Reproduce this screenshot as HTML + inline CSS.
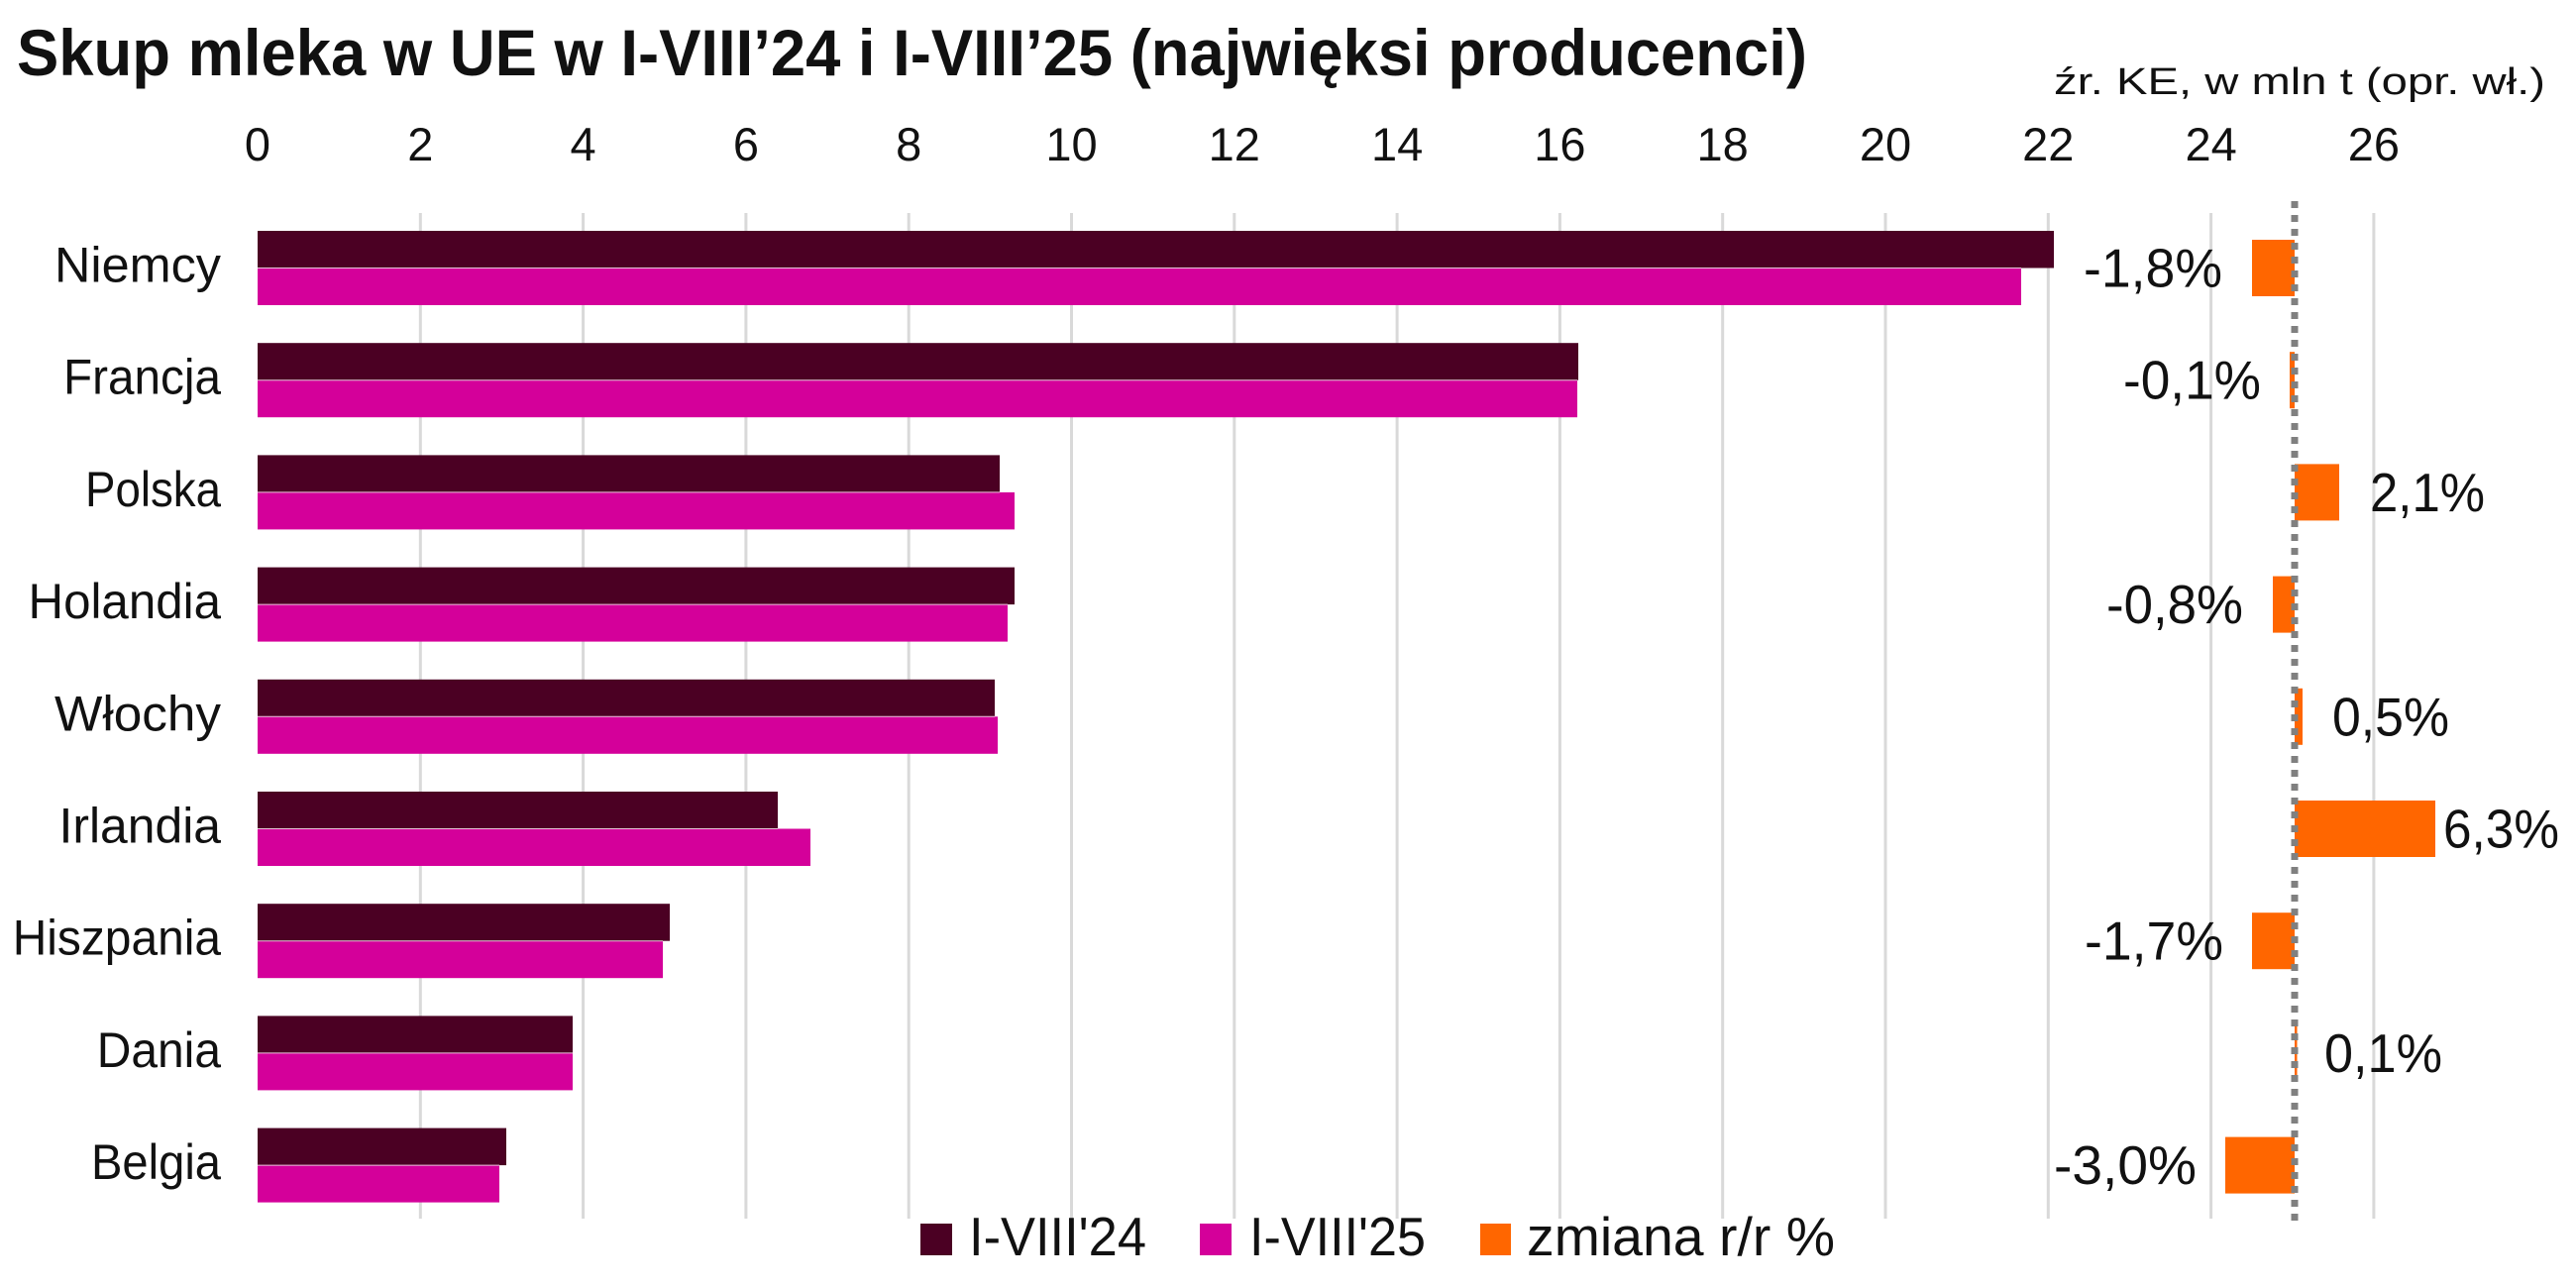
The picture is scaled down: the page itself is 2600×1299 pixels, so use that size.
<!DOCTYPE html>
<html>
<head>
<meta charset="utf-8">
<style>
html,body{margin:0;padding:0;background:#fff;}
svg{display:block;}
text{font-family:"Liberation Sans","DejaVu Sans",sans-serif;fill:#111;}
</style>
</head>
<body>
<svg width="2600" height="1299" viewBox="0 0 2600 1299" xmlns="http://www.w3.org/2000/svg">
<rect x="0" y="0" width="2600" height="1299" fill="#fff"/>

<!-- Title -->
<text x="17" y="76" font-size="66" font-weight="bold" textLength="1807" lengthAdjust="spacingAndGlyphs">Skup mleka w UE w I-VIII’24 i I-VIII’25 (najwięksi producenci)</text>
<!-- Source -->
<text x="2073" y="95" font-size="38" textLength="496" lengthAdjust="spacingAndGlyphs">źr. KE, w mln t (opr. wł.)</text>

<!-- Tick labels -->
<g font-size="47" text-anchor="middle">
<text x="260" y="162">0</text>
<text x="424.3" y="162">2</text>
<text x="588.6" y="162">4</text>
<text x="752.9" y="162">6</text>
<text x="917.2" y="162">8</text>
<text x="1081.5" y="162">10</text>
<text x="1245.8" y="162">12</text>
<text x="1410.1" y="162">14</text>
<text x="1574.4" y="162">16</text>
<text x="1738.7" y="162">18</text>
<text x="1903" y="162">20</text>
<text x="2067.3" y="162">22</text>
<text x="2231.6" y="162">24</text>
<text x="2395.9" y="162">26</text>
</g>

<!-- Gridlines -->
<g stroke="#d9d9d9" stroke-width="3">
<line x1="424.3" y1="215" x2="424.3" y2="1230"/>
<line x1="588.6" y1="215" x2="588.6" y2="1230"/>
<line x1="752.9" y1="215" x2="752.9" y2="1230"/>
<line x1="917.2" y1="215" x2="917.2" y2="1230"/>
<line x1="1081.5" y1="215" x2="1081.5" y2="1230"/>
<line x1="1245.8" y1="215" x2="1245.8" y2="1230"/>
<line x1="1410.1" y1="215" x2="1410.1" y2="1230"/>
<line x1="1574.4" y1="215" x2="1574.4" y2="1230"/>
<line x1="1738.7" y1="215" x2="1738.7" y2="1230"/>
<line x1="1903" y1="215" x2="1903" y2="1230"/>
<line x1="2067.3" y1="215" x2="2067.3" y2="1230"/>
<line x1="2231.6" y1="215" x2="2231.6" y2="1230"/>
<line x1="2395.9" y1="215" x2="2395.9" y2="1230"/>
</g>

<!-- Bars 2024 (dark) -->
<g fill="#4b0023">
<rect x="260" y="233" width="1813" height="37.5"/>
<rect x="260" y="346.2" width="1333" height="37.5"/>
<rect x="260" y="459.4" width="749" height="37.5"/>
<rect x="260" y="572.6" width="764" height="37.5"/>
<rect x="260" y="685.8" width="744" height="37.5"/>
<rect x="260" y="799" width="525" height="37.5"/>
<rect x="260" y="912.2" width="416" height="37.5"/>
<rect x="260" y="1025.4" width="318" height="37.5"/>
<rect x="260" y="1138.6" width="251" height="37.5"/>
</g>
<!-- Bars 2025 (pink) -->
<g fill="#d4009a">
<rect x="260" y="270.5" width="1780" height="37.5"/>
<rect x="260" y="383.7" width="1332" height="37.5"/>
<rect x="260" y="496.9" width="764" height="37.5"/>
<rect x="260" y="610.1" width="757" height="37.5"/>
<rect x="260" y="723.3" width="747" height="37.5"/>
<rect x="260" y="836.5" width="558" height="37.5"/>
<rect x="260" y="949.7" width="409" height="37.5"/>
<rect x="260" y="1062.9" width="318" height="37.5"/>
<rect x="260" y="1176.1" width="244" height="37.5"/>
</g>
<!-- separators -->
<g stroke="#e8c6d9" stroke-width="1">
<line x1="260" y1="270.5" x2="2040" y2="270.5"/>
<line x1="260" y1="383.7" x2="1592" y2="383.7"/>
<line x1="260" y1="496.9" x2="1009" y2="496.9"/>
<line x1="260" y1="610.1" x2="1017" y2="610.1"/>
<line x1="260" y1="723.3" x2="1004" y2="723.3"/>
<line x1="260" y1="836.5" x2="785" y2="836.5"/>
<line x1="260" y1="949.7" x2="669" y2="949.7"/>
<line x1="260" y1="1062.9" x2="578" y2="1062.9"/>
<line x1="260" y1="1176.1" x2="504" y2="1176.1"/>
</g>

<!-- Orange change bars -->
<g fill="#ff6600">
<rect x="2273" y="242" width="43" height="57"/>
<rect x="2311" y="355.2" width="5" height="57"/>
<rect x="2316" y="468.4" width="45" height="57"/>
<rect x="2294" y="581.6" width="22" height="57"/>
<rect x="2316" y="694.8" width="8" height="57"/>
<rect x="2316" y="808" width="142" height="57"/>
<rect x="2273" y="921.2" width="43" height="57"/>
<rect x="2316" y="1034.4" width="2.5" height="57"/>
<rect x="2246" y="1147.6" width="70" height="57"/>
</g>

<!-- Dashed zero line -->
<line x1="2316" y1="203" x2="2316" y2="1237" stroke="#808080" stroke-width="7" stroke-dasharray="7 7"/>

<!-- Category labels -->
<g font-size="50" lengthAdjust="spacingAndGlyphs">
<text x="55" y="284.5" textLength="168" lengthAdjust="spacingAndGlyphs">Niemcy</text>
<text x="64" y="397.7" textLength="159" lengthAdjust="spacingAndGlyphs">Francja</text>
<text x="86" y="510.9" textLength="137" lengthAdjust="spacingAndGlyphs">Polska</text>
<text x="28.5" y="624.1" textLength="194.5" lengthAdjust="spacingAndGlyphs">Holandia</text>
<text x="55" y="737.3" textLength="168" lengthAdjust="spacingAndGlyphs">Włochy</text>
<text x="59.5" y="850.5" textLength="163.5" lengthAdjust="spacingAndGlyphs">Irlandia</text>
<text x="12.7" y="963.7" textLength="210.3" lengthAdjust="spacingAndGlyphs">Hiszpania</text>
<text x="97.7" y="1076.9" textLength="125.3" lengthAdjust="spacingAndGlyphs">Dania</text>
<text x="92" y="1190.1" textLength="131" lengthAdjust="spacingAndGlyphs">Belgia</text>
</g>

<!-- Data labels -->
<g font-size="55">
<text x="2103" y="289.5" textLength="140" lengthAdjust="spacingAndGlyphs">-1,8%</text>
<text x="2143" y="402.7" textLength="139" lengthAdjust="spacingAndGlyphs">-0,1%</text>
<text x="2392" y="515.9" textLength="116" lengthAdjust="spacingAndGlyphs">2,1%</text>
<text x="2126" y="629.1" textLength="138" lengthAdjust="spacingAndGlyphs">-0,8%</text>
<text x="2354" y="742.3" textLength="118" lengthAdjust="spacingAndGlyphs">0,5%</text>
<text x="2466" y="855.5" textLength="117" lengthAdjust="spacingAndGlyphs">6,3%</text>
<text x="2104" y="968.7" textLength="140" lengthAdjust="spacingAndGlyphs">-1,7%</text>
<text x="2346" y="1081.9" textLength="119" lengthAdjust="spacingAndGlyphs">0,1%</text>
<text x="2073" y="1195.1" textLength="144" lengthAdjust="spacingAndGlyphs">-3,0%</text>
</g>

<!-- Legend -->
<rect x="929" y="1235" width="32" height="32" fill="#4b0023"/>
<text x="978" y="1267" font-size="55" textLength="179" lengthAdjust="spacingAndGlyphs">I-VIII'24</text>
<rect x="1211" y="1235" width="32" height="32" fill="#d4009a"/>
<text x="1261" y="1267" font-size="55" textLength="178" lengthAdjust="spacingAndGlyphs">I-VIII'25</text>
<rect x="1494" y="1235" width="31" height="32" fill="#ff6600"/>
<text x="1541" y="1267" font-size="55" textLength="311" lengthAdjust="spacingAndGlyphs">zmiana r/r %</text>
</svg>
</body>
</html>
